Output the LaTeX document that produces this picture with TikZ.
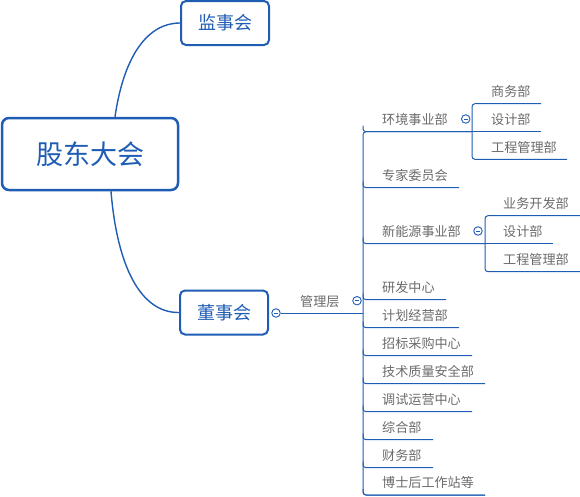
\documentclass[tikz,border=0pt]{standalone}
\usepackage{fontspec}
\setmainfont{Noto Sans CJK SC}
\definecolor{mblue}{HTML}{1F5CB4}
\definecolor{tgray}{HTML}{6A6A6A}
\begin{document}
\begin{tikzpicture}[x=1pt,y=-1pt,
  bigbox/.style={draw=mblue, line width=2.5pt, rounded corners=7pt, fill=white, text=mblue, inner sep=0pt,
    minimum width=176pt, minimum height=72pt, font=\fontsize{27}{30}\selectfont},
  midbox/.style={draw=mblue, line width=2pt, rounded corners=5pt, fill=white, text=mblue, inner sep=0pt,
    minimum width=88pt, minimum height=44pt, font=\fontsize{18}{20}\selectfont},
  lbl/.style={text=tgray, font=\fontsize{13.1}{15}\selectfont, anchor=base west, inner sep=0pt},
  conn/.style={draw=mblue, line width=1.4pt},
  branch/.style={draw=mblue, line width=1pt, rounded corners=3pt},
  tog/.style={circle, draw=mblue, line width=0.9pt, fill=white, minimum size=8.5pt, inner sep=0pt,
    path picture={\draw[mblue, line width=0.8pt] ([xshift=-2.2pt]path picture bounding box.center) -- ([xshift=2.2pt]path picture bounding box.center);}}
]
\useasboundingbox (0,0) rectangle (580,496);

% main boxes
\node[bigbox] (root) at (90,154) {股东大会};
\node[midbox] (jsh) at (225,23) {监事会};
\node[midbox] (dsh) at (224,312.5) {董事会};

\draw[conn] ([xshift=25pt]root.north) .. controls (124,55) and (148,23) .. (jsh.west);
\draw[conn] ([xshift=21pt]root.south) .. controls (117,265) and (140,313) .. (dsh.west);

% management layer
\node[tog] (t0) at (276,313) {};
\coordinate (mv) at (363,313);
\draw[branch] (t0.east) -- (mv);
\node[lbl] (glc) at (300,306) {管理层};
\node[tog] (t1) at (357,300.7) {};

% main vertical
\draw[branch] (472,131.7) -- (363,131.7) -- (363,495) -- (485,495);

% main items
\foreach \n/\y/\xe/\t in {
  a1/131.7/472/环境事业部,
  a2/187.7/459/专家委员会,
  a3/243.7/485/新能源事业部,
  a4/299.7/446/研发中心,
  a5/327.7/459/计划经营部,
  a6/355.7/472/招标采购中心,
  a7/383.7/485/技术质量安全部,
  a8/411.7/472/调试运营中心,
  a9/439.7/433/综合部,
  a10/467.7/433/财务部,
  a11/495/485/博士后工作站等}{
  \node[lbl] (\n) at (382,\y-7.3) {\t};
  \draw[branch] (363,\y-6) -- (363,\y) -- (\xe,\y);
}

% subtree 1
\draw[branch] (541,103.7) -- (472,103.7) -- (472,159.3) -- (567,159.3);
\draw[branch] (472,131.7) -- (541,131.7);
\node[lbl] (s1) at (491,103.7-7) {商务部};
\node[lbl] (s2) at (491,131.7-7) {设计部};
\node[lbl] (s3) at (491,159.3-7) {工程管理部};
\node[tog] (t2) at (465.7,119) {};

% subtree 2
\draw[branch] (580,215.7) -- (485,215.7) -- (485,271.7) -- (580,271.7);
\draw[branch] (485,243.7) -- (553,243.7);
\node[lbl] (u1) at (503,215.7-7) {业务开发部};
\node[lbl] (u2) at (503,243.7-7) {设计部};
\node[lbl] (u3) at (503,271.7-7) {工程管理部};
\node[tog] (t3) at (478,231) {};
\end{tikzpicture}
\end{document}
